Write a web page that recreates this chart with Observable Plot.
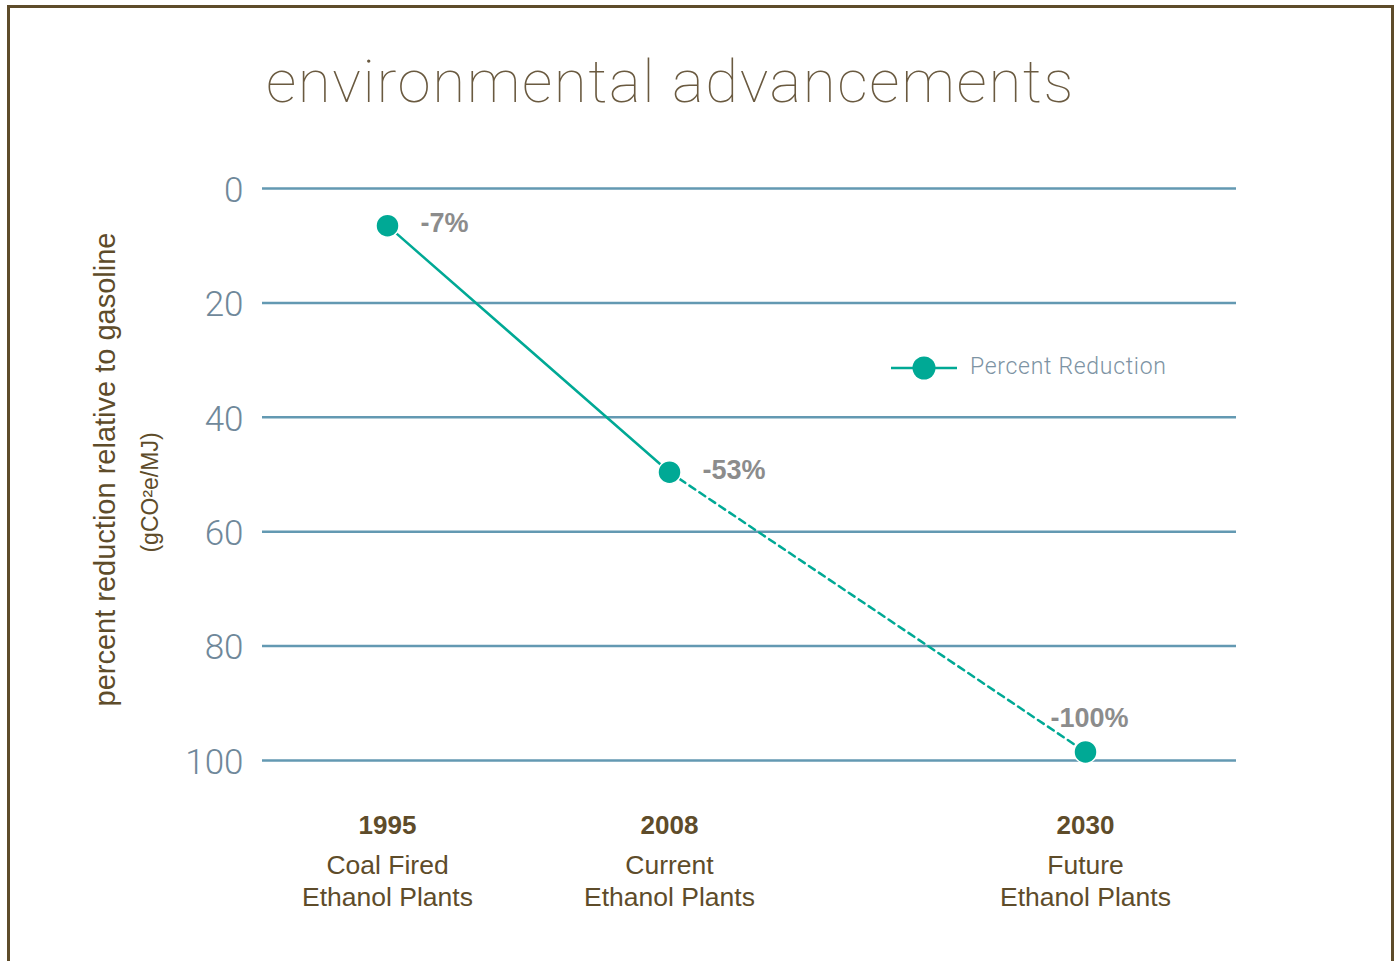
<!DOCTYPE html>
<html>
<head>
<meta charset="utf-8">
<script src="https://cdn.jsdelivr.net/npm/d3@7"></script>
<script src="https://cdn.jsdelivr.net/npm/@observablehq/plot@0.6"></script>
<style>
  html, body { margin: 0; padding: 0; background: #fff; width: 1399px; height: 961px; overflow: hidden; }
  #frame { position: absolute; left: 7px; top: 5px; width: 1381px; height: 1000px; border: 3px solid #5e4c2a; box-sizing: content-box; }
  #title { position: absolute; left: 266px; top: 46px; font-family: Roboto, "Open Sans", sans-serif; font-weight: 100; font-size: 60px; line-height: 72px; color: #6a5a40; letter-spacing: 1.6px; white-space: nowrap; }
  #chart { position: absolute; left: 0; top: 140px; }
  #legend { position: absolute; left: 891px; top: 355px; height: 26px; display: flex; align-items: center; }
  #legend span { margin-left: 13px; margin-top: -4px; font-family: Roboto, "Open Sans", sans-serif; font-weight: 300; font-size: 23px; letter-spacing: 0.7px; color: #7d93a3; }
</style>
</head>
<body>
<div id="frame"></div>
<div id="title">environmental advancements</div>
<div id="chart"></div>
<div id="legend"></div>
<script>
// ---- data ----
const years = [1995, 2008, 2030];
const reduction = [6.5, 49.6, 98.5];
const reductionLabels = ["-7%", "-53%", "-100%"];
const plantLabels = ["Coal Fired\nEthanol Plants", "Current\nEthanol Plants", "Future\nEthanol Plants"];
const yTicks = [0, 20, 40, 60, 80, 100];
const seriesName = "Percent Reduction";
const yLabel = "percent reduction relative to gasoline";
const yUnit = "(gCO²e/MJ)";

const data = years.map((year, i) => ({year, value: reduction[i], label: reductionLabels[i], plant: plantLabels[i]}));

const teal = "#00a995";
const brown = "#5e4c2a";
const grid = "#6399b2";
const sans = "'Liberation Sans', Arial, Helvetica, sans-serif";

const chart = Plot.plot({
  width: 1399,
  height: 820,
  marginLeft: 262,
  marginRight: 163,
  marginTop: 48,
  marginBottom: 200,
  style: {fontFamily: sans, background: "transparent", overflow: "visible"},
  x: {type: "linear", domain: [1995, 2008, 2030], range: [387, 669, 1085], axis: null},
  y: {domain: [0, 100], reverse: true, axis: null},
  marks: [
    Plot.ruleY(yTicks, {stroke: grid, strokeWidth: 2.5}),
    Plot.text(yTicks, {y: d => d, text: d => String(d), frameAnchor: "left", textAnchor: "end", dx: -19, dy: 2,
      fontSize: 35, fontFamily: "Roboto, sans-serif", fontWeight: 300, fill: "#6f889a"}),
    Plot.line(data.slice(0, 2), {x: "year", y: "value", stroke: teal, strokeWidth: 2.5}),
    Plot.line(data.slice(1), {x: "year", y: "value", stroke: teal, strokeWidth: 2.5, strokeDasharray: "7,5"}),
    Plot.dot(data, {x: "year", y: "value", r: 11.5, fill: teal, stroke: "white", strokeWidth: 1.5}),
    Plot.text(data.slice(0, 2), {x: "year", y: "value", text: "label", textAnchor: "start", dx: 33, dy: -2,
      fontSize: 27, fontWeight: "bold", fill: "#8c8c8c"}),
    Plot.text(data.slice(2), {x: "year", y: "value", text: "label", textAnchor: "middle", dx: 4, dy: -34,
      fontSize: 27, fontWeight: "bold", fill: "#8c8c8c"}),
    Plot.text(data, {x: "year", text: d => String(d.year), frameAnchor: "bottom", lineAnchor: "middle", dy: 65,
      fontSize: 26, fontWeight: "bold", fill: brown}),
    Plot.text(data, {x: "year", text: "plant", frameAnchor: "bottom", lineAnchor: "middle", dy: 119,
      fontSize: 26.5, lineHeight: 1.21, fill: brown}),
    Plot.text([yLabel], {text: d => d, frameAnchor: "left", textAnchor: "middle", lineAnchor: "middle", rotate: -90,
      dx: -157, dy: -5, fontSize: 29, fill: brown}),
    Plot.text([yUnit], {text: d => d, frameAnchor: "left", textAnchor: "middle", lineAnchor: "middle", rotate: -90,
      dx: -112, dy: 18, fontSize: 23, fill: brown})
  ]
});
document.getElementById("chart").appendChild(chart);

// legend
const legend = document.getElementById("legend");
const sw = d3.create("svg").attr("width", 66).attr("height", 26);
sw.append("line").attr("x1", 0).attr("x2", 66).attr("y1", 13).attr("y2", 13).attr("stroke", teal).attr("stroke-width", 2.5);
sw.append("circle").attr("cx", 33).attr("cy", 13).attr("r", 11.5).attr("fill", teal);
legend.appendChild(sw.node());
const lt = document.createElement("span");
lt.textContent = seriesName;
legend.appendChild(lt);
</script>
</body>
</html>
